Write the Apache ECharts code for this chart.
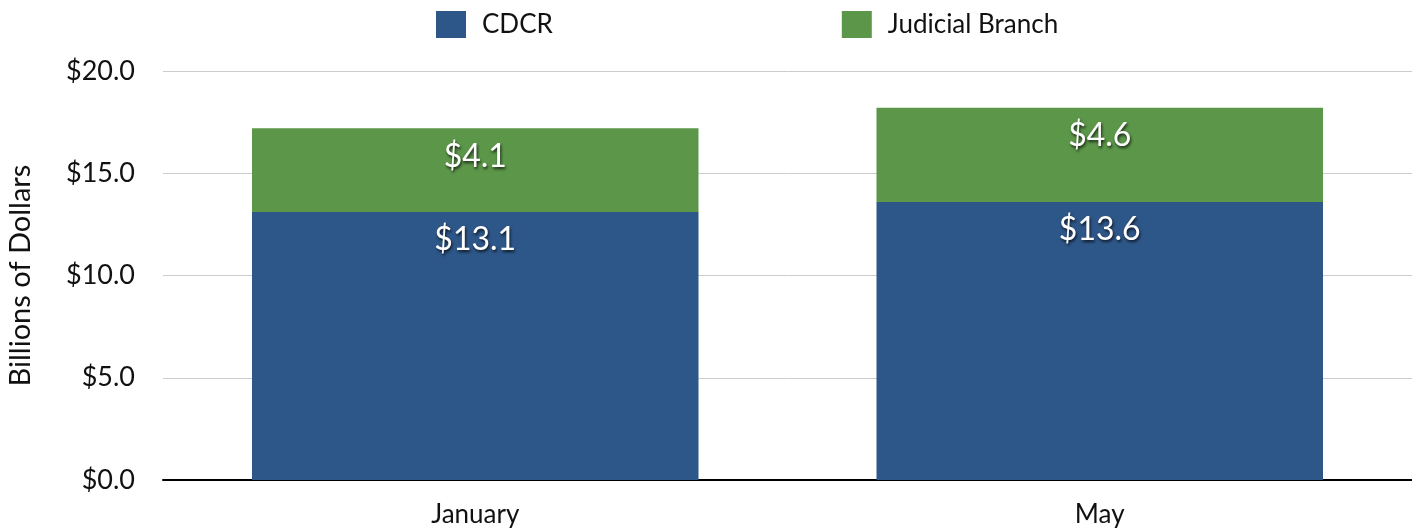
<!DOCTYPE html>
<html>
<head>
<meta charset="utf-8">
<script src="https://cdn.jsdelivr.net/npm/echarts@6/dist/echarts.min.js"></script>
<style>html,body{margin:0;padding:0;background:#fff}#c{width:1412px;height:529px}</style>
</head>
<body>
<div id="c"></div>
<script>
const categories = ['January', 'May'];
const cdcr = [13.1, 13.6];
const judicial = [4.1, 4.6];
const seriesNames = ['CDCR', 'Judicial Branch'];

const chart = echarts.init(document.getElementById('c'), null, {renderer: 'canvas'});
const font = 'Lato, "Noto Sans", sans-serif';
const labelStyle = {
  show: true,
  position: 'insideTop',
  distance: 12,
  color: '#fff',
  fontFamily: font,
  fontSize: 32,
  textShadowColor: 'rgba(0,0,0,0.75)',
  textShadowBlur: 3,
  textShadowOffsetX: 1,
  textShadowOffsetY: 2,
  formatter: p => '$' + p.value.toFixed(1)
};
chart.setOption({
  animation: false,
  textStyle: {fontFamily: font},
  legend: {
    top: 6, left: 431, itemWidth: 30, itemHeight: 27, itemGap: 289,
    icon: 'rect',
    textStyle: {fontSize: 26, color: '#111', fontFamily: font, padding: [0, 0, 0, 11]},
    data: seriesNames
  },
  grid: {left: 163, right: 0, top: 71, bottom: 49, outerBoundsMode: 'none', containLabel: false},
  xAxis: {
    type: 'category', data: categories,
    axisLine: {lineStyle: {color: '#000', width: 2}},
    axisTick: {show: false},
    axisLabel: {fontSize: 26, color: '#111', margin: 22, fontFamily: font}
  },
  yAxis: {
    type: 'value', min: 0, max: 20, interval: 5,
    name: 'Billions of Dollars', nameLocation: 'middle', nameGap: 128,
    nameTextStyle: {fontSize: 29, color: '#111', fontFamily: font},
    axisLine: {show: false}, axisTick: {show: false},
    axisLabel: {fontSize: 27, color: '#111', margin: 28, fontFamily: font, formatter: v => '$' + v.toFixed(1)},
    splitLine: {lineStyle: {color: '#cccccc', width: 1}}
  },
  series: [
    {name: seriesNames[0], type: 'bar', stack: 't', data: cdcr, barWidth: '71.5%', itemStyle: {color: '#2E5789'}, label: labelStyle},
    {name: seriesNames[1], type: 'bar', stack: 't', data: judicial, barWidth: '71.5%', itemStyle: {color: '#5C9749'}, label: labelStyle}
  ]
});
</script>
</body>
</html>
